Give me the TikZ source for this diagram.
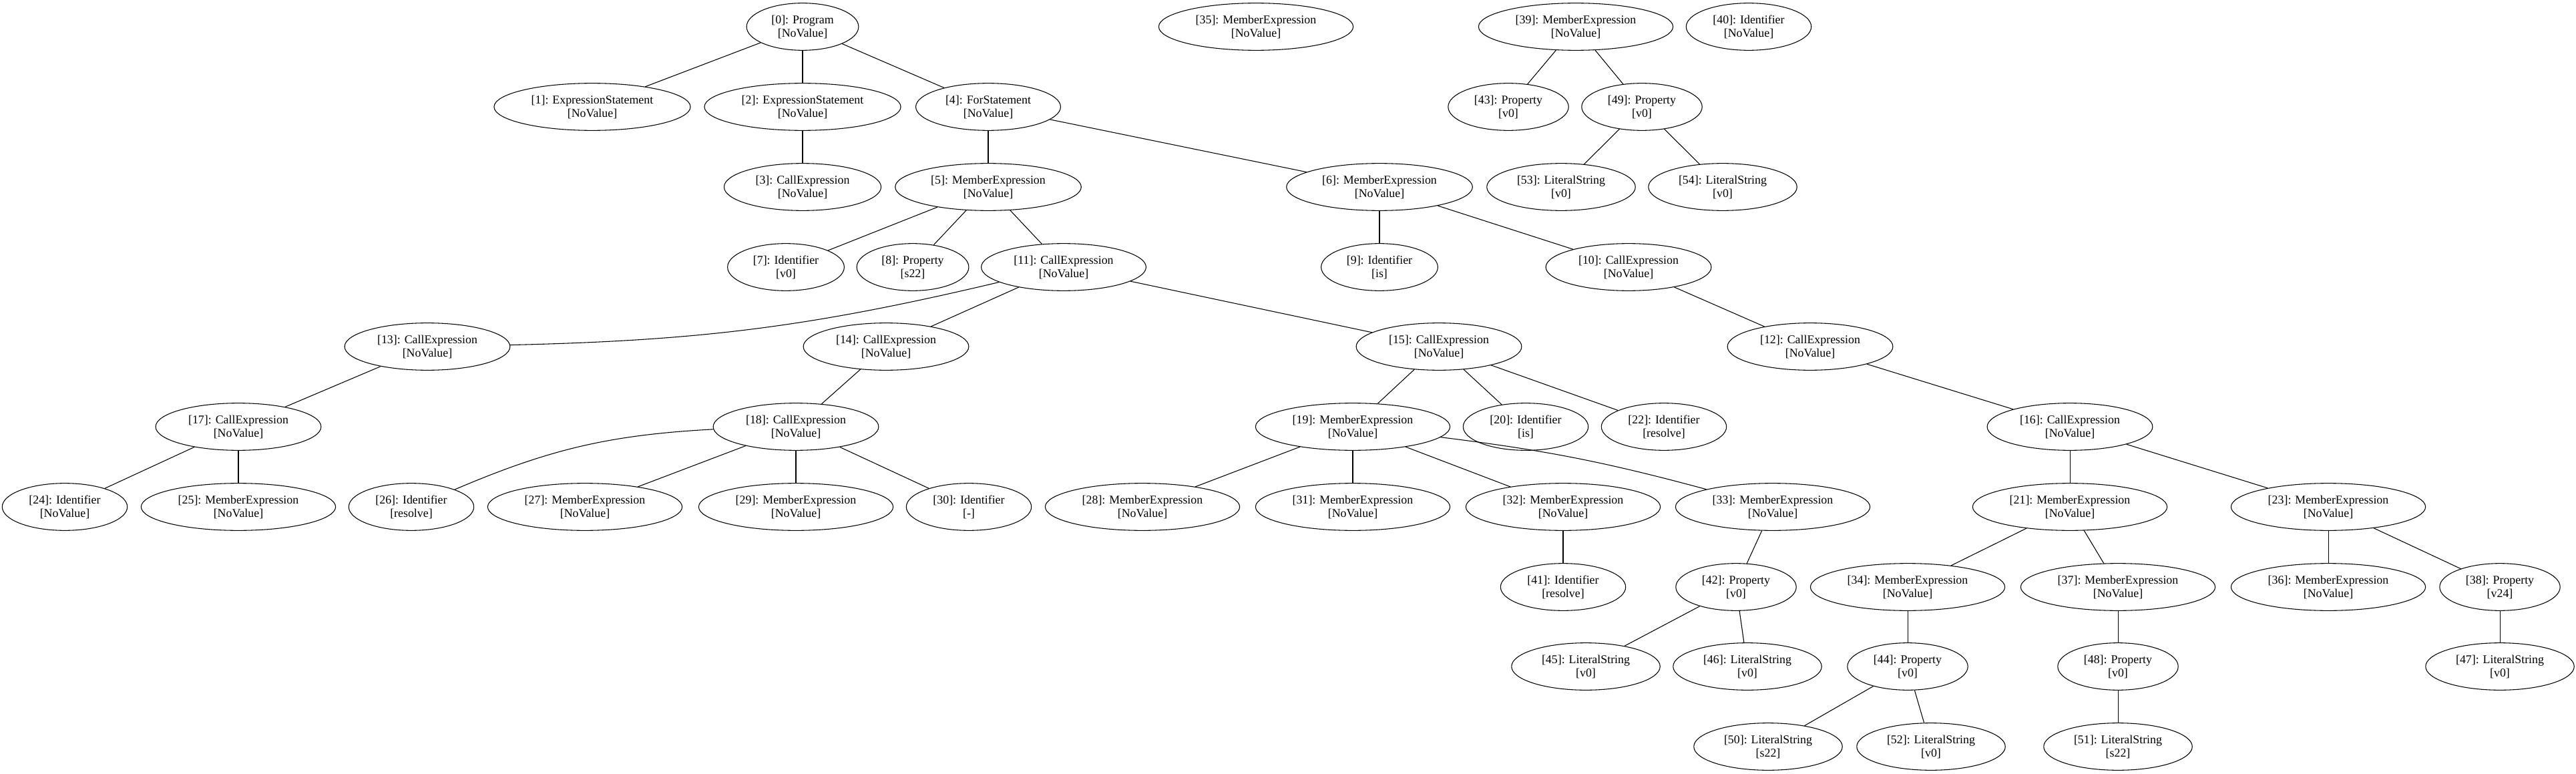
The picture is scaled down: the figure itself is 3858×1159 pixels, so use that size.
\documentclass[tikz,border=0pt]{standalone}
\usepackage{fontspec}
\setmainfont{Liberation Serif}
\usepackage{tikz}
\usetikzlibrary{shapes.geometric}
\tikzset{ast/.style = {draw, ellipse, line width = 0.8pt, inner xsep = 9.5pt, inner ysep = 2pt, minimum height = 53pt, align = center, font = \fontsize{13.4}{15}\selectfont}}
\tikzset{edge/.style = {line width = 0.8pt}}

\begin{document}
\begin{tikzpicture}[x=0.75pt, y=-0.75pt]
    \useasboundingbox (0, 0) rectangle (3858, 1159);

    \node [ast] (n0) at (1202, 40) {[0]: Program\\{}[NoValue]};
    \node [ast] (n35) at (1881, 40) {[35]: MemberExpression\\{}[NoValue]};
    \node [ast] (n39) at (2360, 40) {[39]: MemberExpression\\{}[NoValue]};
    \node [ast] (n40) at (2619, 40) {[40]: Identifier\\{}[NoValue]};

    \node [ast] (n1) at (887, 160) {[1]: ExpressionStatement\\{}[NoValue]};
    \node [ast] (n2) at (1202, 160) {[2]: ExpressionStatement\\{}[NoValue]};
    \node [ast] (n4) at (1480, 160) {[4]: ForStatement\\{}[NoValue]};
    \node [ast] (n43) at (2259, 160) {[43]: Property\\{}[v0]};
    \node [ast] (n49) at (2459, 160) {[49]: Property\\{}[v0]};

    \node [ast] (n3) at (1202, 280) {[3]: CallExpression\\{}[NoValue]};
    \node [ast] (n5) at (1480, 280) {[5]: MemberExpression\\{}[NoValue]};
    \node [ast] (n6) at (2066, 280) {[6]: MemberExpression\\{}[NoValue]};
    \node [ast] (n53) at (2338, 280) {[53]: LiteralString\\{}[v0]};
    \node [ast] (n54) at (2580, 280) {[54]: LiteralString\\{}[v0]};

    \node [ast] (n7) at (1177, 400) {[7]: Identifier\\{}[v0]};
    \node [ast] (n8) at (1367, 400) {[8]: Property\\{}[s22]};
    \node [ast] (n11) at (1593, 400) {[11]: CallExpression\\{}[NoValue]};
    \node [ast] (n9) at (2066, 400) {[9]: Identifier\\{}[is]};
    \node [ast] (n10) at (2439, 400) {[10]: CallExpression\\{}[NoValue]};

    \node [ast] (n13) at (640, 519) {[13]: CallExpression\\{}[NoValue]};
    \node [ast] (n14) at (1327, 519) {[14]: CallExpression\\{}[NoValue]};
    \node [ast] (n15) at (2155, 519) {[15]: CallExpression\\{}[NoValue]};
    \node [ast] (n12) at (2711, 519) {[12]: CallExpression\\{}[NoValue]};

    \node [ast] (n17) at (357, 639) {[17]: CallExpression\\{}[NoValue]};
    \node [ast] (n18) at (1192, 639) {[18]: CallExpression\\{}[NoValue]};
    \node [ast] (n19) at (2026, 639) {[19]: MemberExpression\\{}[NoValue]};
    \node [ast] (n20) at (2285, 639) {[20]: Identifier\\{}[is]};
    \node [ast] (n22) at (2492, 639) {[22]: Identifier\\{}[resolve]};
    \node [ast] (n16) at (3100, 639) {[16]: CallExpression\\{}[NoValue]};

    \node [ast] (n24) at (97, 759) {[24]: Identifier\\{}[NoValue]};
    \node [ast] (n25) at (357, 759) {[25]: MemberExpression\\{}[NoValue]};
    \node [ast] (n26) at (616, 759) {[26]: Identifier\\{}[resolve]};
    \node [ast] (n27) at (876, 759) {[27]: MemberExpression\\{}[NoValue]};
    \node [ast] (n29) at (1192, 759) {[29]: MemberExpression\\{}[NoValue]};
    \node [ast] (n30) at (1451, 759) {[30]: Identifier\\{}[-]};
    \node [ast] (n28) at (1711, 759) {[28]: MemberExpression\\{}[NoValue]};
    \node [ast] (n31) at (2026, 759) {[31]: MemberExpression\\{}[NoValue]};
    \node [ast] (n32) at (2341, 759) {[32]: MemberExpression\\{}[NoValue]};
    \node [ast] (n33) at (2655, 759) {[33]: MemberExpression\\{}[NoValue]};
    \node [ast] (n21) at (3100, 759) {[21]: MemberExpression\\{}[NoValue]};
    \node [ast] (n23) at (3487, 759) {[23]: MemberExpression\\{}[NoValue]};

    \node [ast] (n41) at (2341, 879) {[41]: Identifier\\{}[resolve]};
    \node [ast] (n42) at (2600, 879) {[42]: Property\\{}[v0]};
    \node [ast] (n34) at (2857, 879) {[34]: MemberExpression\\{}[NoValue]};
    \node [ast] (n37) at (3172, 879) {[37]: MemberExpression\\{}[NoValue]};
    \node [ast] (n36) at (3487, 879) {[36]: MemberExpression\\{}[NoValue]};
    \node [ast] (n38) at (3744, 879) {[38]: Property\\{}[v24]};

    \node [ast] (n45) at (2375, 998) {[45]: LiteralString\\{}[v0]};
    \node [ast] (n46) at (2617, 998) {[46]: LiteralString\\{}[v0]};
    \node [ast] (n44) at (2857, 998) {[44]: Property\\{}[v0]};
    \node [ast] (n48) at (3172, 998) {[48]: Property\\{}[v0]};
    \node [ast] (n47) at (3744, 998) {[47]: LiteralString\\{}[v0]};

    \node [ast] (n50) at (2648, 1118) {[50]: LiteralString\\{}[s22]};
    \node [ast] (n52) at (2892, 1118) {[52]: LiteralString\\{}[v0]};
    \node [ast] (n51) at (3172, 1118) {[51]: LiteralString\\{}[s22]};

    % edges
    \draw [edge] (n0) -- (n1);
    \draw [edge] (n0) -- (n2);
    \draw [edge] (n0) -- (n4);
    \draw [edge] (n2) -- (n3);
    \draw [edge] (n4) -- (n5);
    \draw [edge] (n4) -- (n6);
    \draw [edge] (n5) -- (n7);
    \draw [edge] (n5) -- (n8);
    \draw [edge] (n5) -- (n11);
    \draw [edge] (n6) -- (n9);
    \draw [edge] (n6) -- (n10);
    \draw [edge] (n10) -- (n12);
    \draw [edge] (n11) to [bend left=6] (n13);
    \draw [edge] (n11) -- (n14);
    \draw [edge] (n11) -- (n15);
    \draw [edge] (n12) -- (n16);
    \draw [edge] (n13) -- (n17);
    \draw [edge] (n14) -- (n18);
    \draw [edge] (n15) -- (n19);
    \draw [edge] (n15) -- (n20);
    \draw [edge] (n15) -- (n22);
    \draw [edge] (n16) -- (n21);
    \draw [edge] (n16) -- (n23);
    \draw [edge] (n17) -- (n24);
    \draw [edge] (n17) -- (n25);
    \draw [edge] (n18) to [bend right=10] (n26);
    \draw [edge] (n18) -- (n27);
    \draw [edge] (n18) -- (n29);
    \draw [edge] (n18) -- (n30);
    \draw [edge] (n19) -- (n28);
    \draw [edge] (n19) -- (n31);
    \draw [edge] (n19) -- (n32);
    \draw [edge] (n19) to [bend left=4] (n33);
    \draw [edge] (n21) -- (n34);
    \draw [edge] (n21) -- (n37);
    \draw [edge] (n23) -- (n36);
    \draw [edge] (n23) -- (n38);
    \draw [edge] (n32) -- (n41);
    \draw [edge] (n33) -- (n42);
    \draw [edge] (n42) -- (n45);
    \draw [edge] (n42) -- (n46);
    \draw [edge] (n34) -- (n44);
    \draw [edge] (n37) -- (n48);
    \draw [edge] (n38) -- (n47);
    \draw [edge] (n44) -- (n50);
    \draw [edge] (n44) -- (n52);
    \draw [edge] (n48) -- (n51);

    \draw [edge] (n39) -- (n43);
    \draw [edge] (n39) -- (n49);
    \draw [edge] (n49) -- (n53);
    \draw [edge] (n49) -- (n54);
\end{tikzpicture}
\end{document}
